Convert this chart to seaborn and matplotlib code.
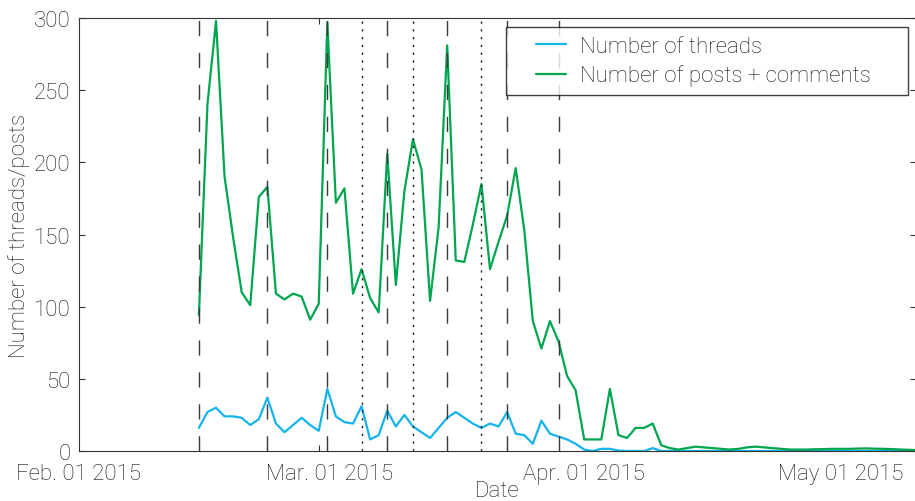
import numpy as np
import pandas as pd
import matplotlib
matplotlib.use("Agg")
import matplotlib.pyplot as plt
import matplotlib.dates as mdates
from matplotlib.legend_handler import HandlerLine2D
import seaborn as sns

# ---------------- data ----------------
start_date = "2015-02-15"
threads = [16, 27, 30, 24, 24, 23, 18, 22, 37, 19, 13, 18, 23, 18, 14,
           43, 24, 20, 19, 31, 8, 11, 28, 17, 25, 17, 13, 9, 16, 23,
           27, 23, 19, 16, 19, 17, 27, 12, 11, 5, 21, 12, 10, 8, 5,
           1, 0, 1.5, 1.5, 0.3, 0, 0, 0, 2, 0, 0, 0, 0, 0, 0,
           0, 0, 0, 0, 0, 0, 0, 0, 0, 0, 0, 0, 0, 0, 0,
           0, 0, 0, 0, 0, 0, 0, 0, 0, 0]
posts = [94, 240, 298, 190, 148, 110, 101, 176, 183, 109, 105, 109, 107, 91, 102,
         297, 172, 182, 109, 126, 106, 96, 206, 115, 180, 216, 195, 104, 155, 281,
         132, 131, 157, 185, 126, 145, 163, 196, 153, 90, 71, 90, 76, 52, 42,
         8, 8, 8, 43, 11, 9, 16, 16, 19, 4, 2, 1, 2, 3, 2.5,
         2, 1.5, 1, 1.5, 2.5, 3, 2.5, 2, 1.5, 1, 1, 1, 1.2, 1.3, 1.5,
         1.5, 1.5, 1.7, 1.8, 1.6, 1.5, 1.3, 1.0, 0.8, 0.6]
series_names = ["Number of threads", "Number of posts + comments"]
dashed_dates = ["2015-02-15", "2015-02-23", "2015-03-02", "2015-03-09",
                "2015-03-16", "2015-03-23", "2015-03-29"]
dotted_dates = ["2015-03-06", "2015-03-12", "2015-03-20"]
tick_dates = ["2015-02-01", "2015-03-01", "2015-04-01", "2015-05-01"]
label_dates = ["2015-02-01", "2015-03-02 07:00", "2015-04-01", "2015-05-01"]
tick_labels = ["Feb. 01 2015", "Mar. 01 2015", "Apr. 01 2015", "May 01 2015"]
y_ticks = [0, 50, 100, 150, 200, 250, 300]

dates = pd.date_range(start_date, periods=len(posts), freq="D")
df = pd.DataFrame({"Date": dates, series_names[0]: threads, series_names[1]: posts})
long = df.melt("Date", var_name="series", value_name="count")

# ---------------- style ----------------
sns.set_style("white")
plt.rcParams["font.family"] = ["Roboto", "DejaVu Sans"]
plt.rcParams["font.weight"] = "light"
plt.rcParams["axes.labelweight"] = "light"
plt.rcParams["lines.scale_dashes"] = False
FS = 16
txt = "#111111"

fig = plt.figure(figsize=(9.15, 5.02), dpi=100)
ax = fig.add_axes([79 / 915, 50 / 502, (916 - 79) / 915, 433 / 502])

colors = {series_names[0]: "#14b4ea", series_names[1]: "#00a550"}
sns.lineplot(data=long, x="Date", y="count", hue="series", palette=colors,
             linewidth=1.6, ax=ax, legend=True)

for d in dashed_dates:
    ax.axvline(pd.Timestamp(d), color="#3a3a3a", lw=1.0, ls=(0, (11, 12)), zorder=3)
for d in dotted_dates:
    ax.axvline(pd.Timestamp(d), color="#1a1a1a", lw=1.0, ls=(0, (1.6, 4.0)), zorder=3)

ax.set_xlim(pd.Timestamp("2015-02-01"), pd.Timestamp("2015-02-01") + pd.Timedelta(days=97.75))
ax.set_ylim(0, 300)

ax.set_xticks([mdates.date2num(pd.Timestamp(d)) for d in label_dates])
ax.set_xticklabels(tick_labels)
ax.set_xticks([mdates.date2num(pd.Timestamp(d)) for d in tick_dates], minor=True)
ax.set_yticks(y_ticks)
ax.set_yticklabels([str(v) for v in y_ticks])

ax.tick_params(axis="x", which="major", length=0, pad=9, labelsize=FS, colors=txt)
ax.tick_params(axis="x", which="minor", direction="in", length=4, top=True, bottom=True,
               width=0.8, color="#333333")
ax.tick_params(axis="y", which="major", direction="in", length=4, left=True, right=True,
               width=0.8, color="#333333", pad=6, labelsize=FS, labelcolor=txt)

for s in ax.spines.values():
    s.set_visible(True)
    s.set_color("#333333")
    s.set_linewidth(0.8)

ax.set_xlabel("Date", fontsize=FS, color=txt, fontweight="light")
ax.set_ylabel("Number of threads/posts", fontsize=FS, color=txt, fontweight="light")
ax.xaxis.set_label_coords(0.5, -0.066)
ax.yaxis.set_label_coords(-0.058, 0.5)

handles, labels = ax.get_legend_handles_labels()
x0 = (506 - 79) / 837
x1 = (908 - 79) / 837
ytop = (452 - 28) / 433
leg = ax.legend(handles, labels, loc="upper left", bbox_to_anchor=(x0, ytop - 0.2, x1 - x0, 0.2),
                mode="expand", borderaxespad=0, fontsize=FS, frameon=True, fancybox=False,
                edgecolor="#111111", borderpad=0.4, labelspacing=0.35,
                handlelength=2.3, handletextpad=0.63,
                handler_map={plt.Line2D: HandlerLine2D(xpad=0.95)})
leg.get_frame().set_linewidth(1.0)
for t in leg.get_texts():
    t.set_color(txt)

fig.savefig("out.png", dpi=100, facecolor="white")
